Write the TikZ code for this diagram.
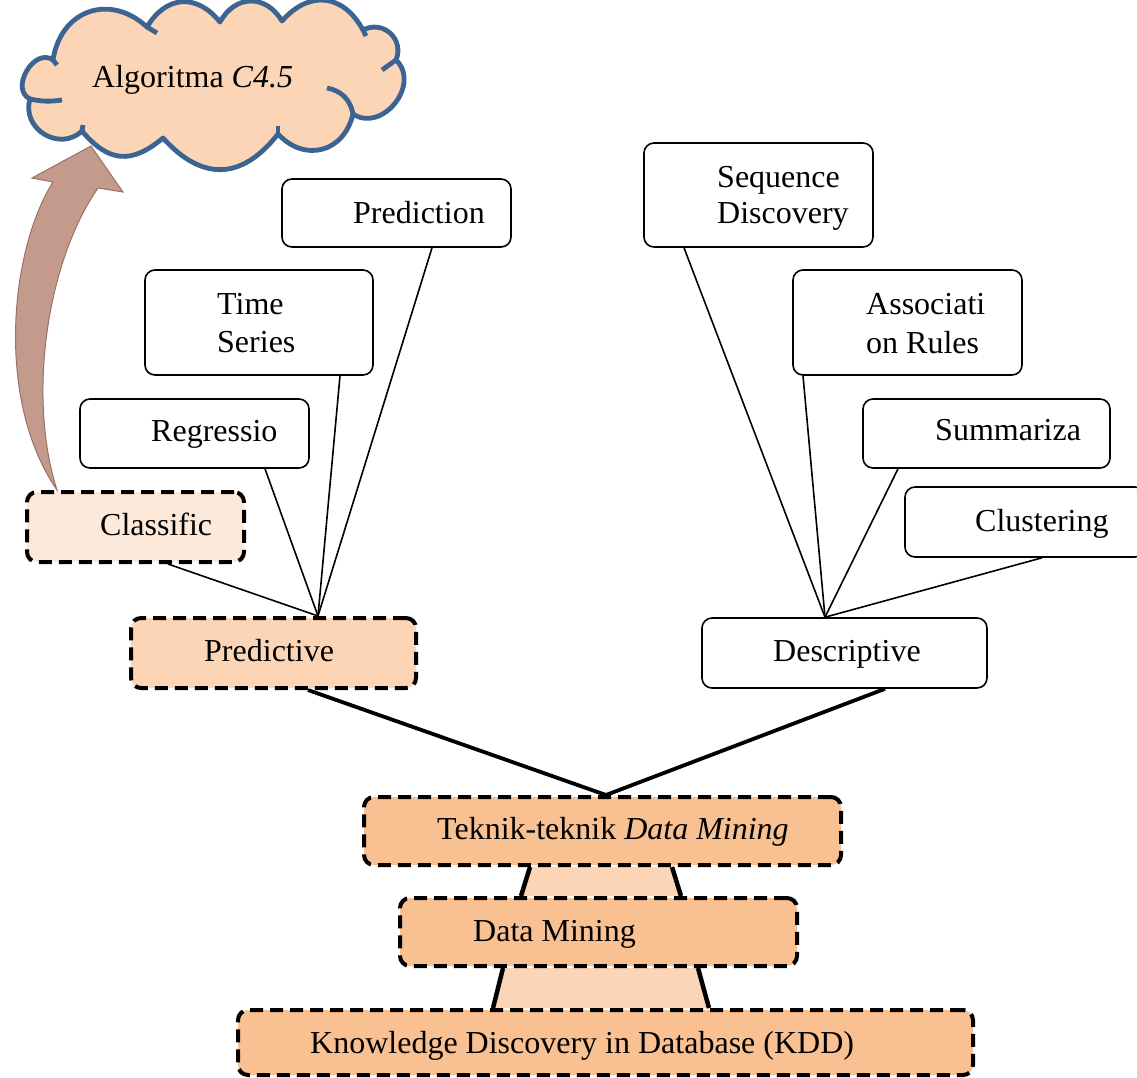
\documentclass[tikz,border=0pt]{standalone}
\usepackage{fontspec}
\setmainfont{Liberation Serif}
\usetikzlibrary{calc,backgrounds}

\definecolor{peach}{HTML}{FBD5B5}
\definecolor{paleorange}{HTML}{FDE9D9}
\definecolor{tanorange}{HTML}{F9C191}
\definecolor{cloudblue}{HTML}{3B6493}
\definecolor{arrowfill}{HTML}{C39A8B}
\definecolor{arrowline}{HTML}{9A7366}

\begin{document}
\begin{tikzpicture}[x=1pt,y=1pt,
  every node/.style={font=\fontsize{32}{38}\selectfont},
  plainbox/.style={draw=black, line width=1.6pt, rounded corners=10pt, fill=white, inner sep=0pt},
  dashbox/.style={draw=black, line width=4pt, rounded corners=10pt,
                  dash pattern=on 13pt off 7pt, inner sep=0pt},
  lbl/.style={anchor=base west, inner sep=0pt},
  twig/.style={line width=1.6pt},
  trunk/.style={line width=3.8pt},
  puff/.style={bend left=#1, looseness=1.3}
]
\useasboundingbox (0,0) rectangle (1137,-1077);

% ---------- cloud ----------
\coordinate (c1) at (30,-99);
\coordinate (c2) at (53,-60);
\coordinate (c3) at (147,-27);
\coordinate (c4) at (220,-22);
\coordinate (c5) at (282,-21);
\coordinate (c6) at (363,-30);
\coordinate (c7) at (396,-60);
\coordinate (c8) at (353,-114);
\coordinate (c9) at (278,-134);
\coordinate (c10) at (163,-138);
\coordinate (c11) at (82,-131);
\draw[fill=peach, draw=cloudblue, line width=4.8pt, line join=round]
  (c1) to[puff=95] (c2) to[puff=62] (c3) to[puff=55] (c4) to[puff=60] (c5)
  to[puff=55] (c6) to[puff=70] (c7) to[puff=85] (c8) to[puff=62] (c9)
  to[puff=50] (c10) to[puff=45] (c11) to[puff=75] (c1) -- cycle;
\begin{scope}[draw=cloudblue, line width=4.8pt]
  \draw (c1) to[bend right=10] (62,-100);
  \draw (c2) -- (57,-65);
  \draw (c3) -- (157,-33);
  \draw (c6) -- (366,-36);
  \draw (c7) -- (382,-70);
  \draw (327,-88) to[bend left=35] (c8);
  \draw (c9) -- (278,-126);
  \draw (c11) -- (83,-125);
\end{scope}
\node[lbl] (cloudT) at (92,-87) {Algoritma \textit{C4.5}};

% ---------- boxes ----------
\node[plainbox, minimum width=229pt, minimum height=68pt]  (prediction)  at (396.5,-213) {};
\node[plainbox, minimum width=228pt, minimum height=105pt] (timeseries)  at (259,-322.5) {};
\node[plainbox, minimum width=229pt, minimum height=69pt]  (regressio)   at (194.5,-433.5) {};
\node[dashbox, fill=paleorange, minimum width=217pt, minimum height=70pt] (classific) at (135.5,-527) {};
\node[dashbox, fill=peach, minimum width=285pt, minimum height=70pt] (predictive) at (273.5,-653) {};

\node[plainbox, minimum width=229pt, minimum height=104pt] (sequence)    at (758.5,-195) {};
\node[plainbox, minimum width=229pt, minimum height=105pt] (association) at (907.5,-322.5) {};
\node[plainbox, minimum width=247pt, minimum height=69pt]  (summariza)   at (986.5,-433.5) {};
\node[plainbox, minimum width=240pt, minimum height=70pt]  (clustering)  at (1025,-522) {};
\node[plainbox, minimum width=285pt, minimum height=70pt]  (descriptive) at (844.5,-653) {};

\node[dashbox, fill=tanorange, minimum width=477pt, minimum height=68pt] (teknik) at (602.5,-831) {};
\node[dashbox, fill=tanorange, minimum width=397pt, minimum height=68pt] (dm)     at (598.5,-932) {};
\node[dashbox, fill=tanorange, minimum width=735pt, minimum height=65pt] (kdd)    at (605.5,-1042.5) {};

% ---------- labels ----------
\node[lbl] (predictionT)  at (353,-223) {Prediction};
\node[lbl] (timeT)        at (217,-314) {Time};
\node[lbl] (seriesT)      at (217,-352) {Series};
\node[lbl] (regressioT)   at (151,-441) {Regressio};
\node[lbl] (classificT)   at (100,-535) {Classific};
\node[lbl] (predictiveT)  at (204,-661) {Predictive};
\node[lbl] (sequenceT)    at (717,-187) {Sequence};
\node[lbl] (discoveryT)   at (717,-223) {Discovery};
\node[lbl] (associatiT)   at (866,-314) {Associati};
\node[lbl] (onrulesT)     at (866,-353) {on Rules};
\node[lbl] (summarizaT)   at (935,-440) {Summariza};
\node[lbl] (clusteringT)  at (975,-531) {Clustering};
\node[lbl] (descriptiveT) at (773,-661) {Descriptive};
\node[lbl] (teknikT)      at (437,-839) {Teknik-teknik \textit{Data Mining}};
\node[lbl] (dmT)          at (473,-941) {Data Mining};
\node[lbl] (kddT)         at (310,-1053) {Knowledge Discovery in Database (KDD)};

% ---------- connectors, funnels and the block arrow behind the boxes ----------
\begin{scope}[on background layer]
  \coordinate (pj) at ([xshift=44.5pt]predictive.north);
  \coordinate (dj) at ([xshift=-19.5pt]descriptive.north);
  \coordinate (tj) at ([xshift=3.5pt]teknik.north);

  \draw[twig] ([xshift=32.5pt]classific.south)  -- (pj);
  \draw[twig] ([xshift=70.5pt]regressio.south)  -- (pj);
  \draw[twig] ([xshift=81pt]timeseries.south)   -- (pj);
  \draw[twig] ([xshift=35.5pt]prediction.south) -- (pj);

  \draw[twig] ([xshift=-74.5pt]sequence.south)     -- (dj);
  \draw[twig] ([xshift=-104.5pt]association.south) -- (dj);
  \draw[twig] ([xshift=-88.5pt]summariza.south)    -- (dj);
  \draw[twig] ([xshift=17pt]clustering.south)      -- (dj);

  \draw[trunk] ([xshift=34.5pt]predictive.south)  -- (tj);
  \draw[trunk] ([xshift=40.5pt]descriptive.south) -- (tj);

  % funnel between Teknik-teknik and Data Mining
  \fill[peach] ([xshift=-72.5pt]teknik.south) -- ([xshift=69.5pt]teknik.south)
     -- ([xshift=82.5pt]dm.north) -- ([xshift=-77.5pt]dm.north) -- cycle;
  \draw[line width=4.5pt] ([xshift=-72.5pt]teknik.south) -- ([xshift=-77.5pt]dm.north);
  \draw[line width=4.5pt] ([xshift=69.5pt]teknik.south)  -- ([xshift=82.5pt]dm.north);

  % funnel between Data Mining and KDD
  \fill[peach] ([xshift=-95.5pt]dm.south) -- ([xshift=99.5pt]dm.south)
     -- ([xshift=103.5pt]kdd.north) -- ([xshift=-112.5pt]kdd.north) -- cycle;
  \draw[line width=4.5pt] ([xshift=-95.5pt]dm.south) -- ([xshift=-112.5pt]kdd.north);
  \draw[line width=4.5pt] ([xshift=99.5pt]dm.south)  -- ([xshift=103.5pt]kdd.north);

  % curved block arrow from Classific up to the cloud
  \coordinate (atail) at ([xshift=-78.5pt]classific.north);
  \draw[fill=arrowfill, draw=arrowline, line width=1pt, line join=miter]
    (atail) .. controls (-5,-400) and (10,-250) .. (53,-182)
    -- (32,-178) -- (91,-146) -- (123,-192) -- (98,-188)
    .. controls (45,-265) and (28,-400) .. (atail) -- cycle;
\end{scope}
\end{tikzpicture}
\end{document}
